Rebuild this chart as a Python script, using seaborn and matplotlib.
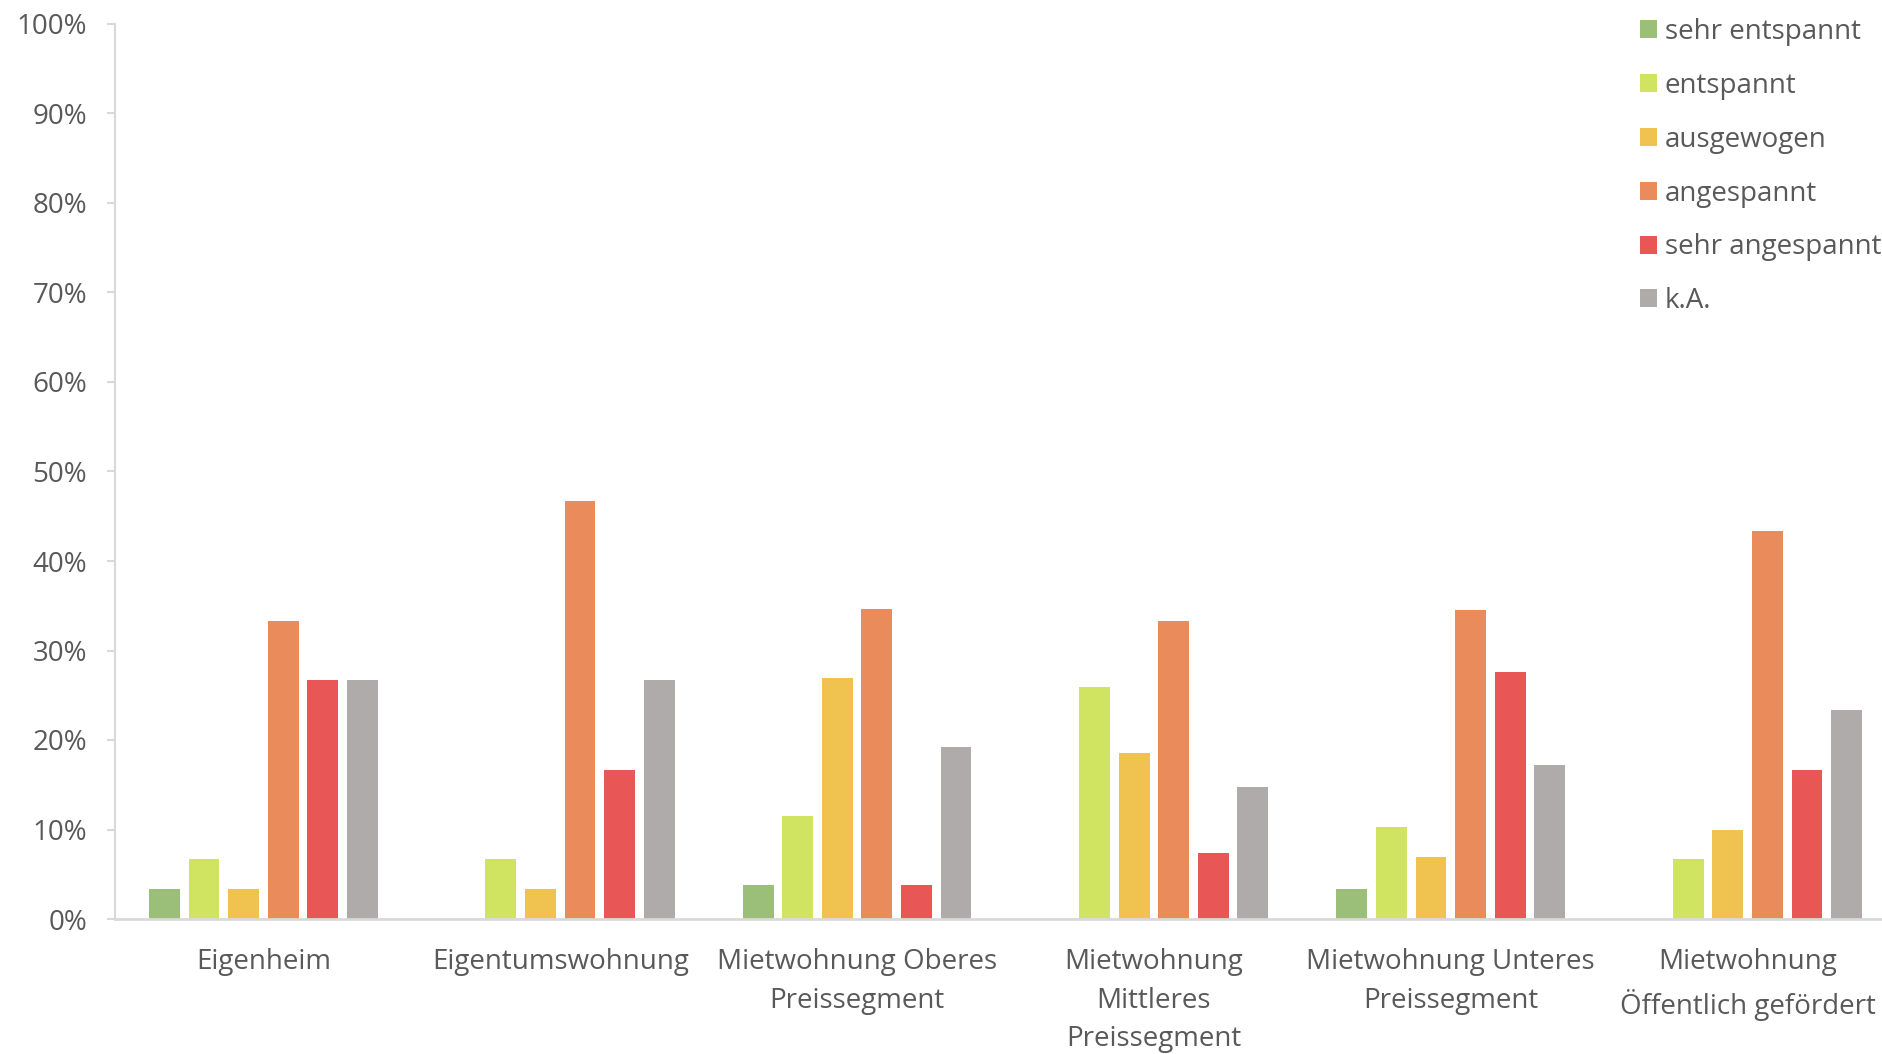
import matplotlib
matplotlib.use("Agg")
import matplotlib.pyplot as plt
import seaborn as sns
import pandas as pd
from matplotlib.patches import Patch
from matplotlib.ticker import PercentFormatter, MultipleLocator

categories = [
    "Eigenheim",
    "Eigentumswohnung",
    "Mietwohnung Oberes\nPreissegment",
    "Mietwohnung\nMittleres\nPreissegment",
    "Mietwohnung Unteres\nPreissegment",
    "Mietwohnung\nÖffentlich gefördert",
]
series = ["sehr entspannt", "entspannt", "ausgewogen", "angespannt", "sehr angespannt", "k.A."]

sehr_entspannt = [3.3, 0.0, 3.8, 0.0, 3.4, 0.0]
entspannt = [6.7, 6.7, 11.5, 25.9, 10.3, 6.7]
ausgewogen = [3.3, 3.3, 26.9, 18.5, 6.9, 10.0]
angespannt = [33.3, 46.7, 34.6, 33.3, 34.5, 43.3]
sehr_angespannt = [26.7, 16.7, 3.8, 7.4, 27.6, 16.7]
k_a = [26.7, 26.7, 19.2, 14.8, 17.2, 23.3]

colors = ["#9BBE78", "#D0E462", "#F0C350", "#E98B5B", "#E85656", "#AFABAA"]

values = [sehr_entspannt, entspannt, ausgewogen, angespannt, sehr_angespannt, k_a]
rows = []
for s, vals in zip(series, values):
    for c, v in zip(categories, vals):
        rows.append({"Kategorie": c, "Serie": s, "Wert": v})
df = pd.DataFrame(rows)

sns.set_style("white")
plt.rcParams["font.family"] = ["Open Sans", "DejaVu Sans"]
FS = 20
TXT = "#595959"
AX = "#D9D9D9"

fig = plt.figure(figsize=(18.83, 10.54), dpi=100)
ax = fig.add_axes([115 / 1883, 1 - 919 / 1054, 1781 / 1883, (919 - 24) / 1054])

sns.barplot(
    data=df, x="Kategorie", y="Wert", hue="Serie",
    order=categories, hue_order=series, palette=colors, saturation=1,
    width=0.80, gap=0.22, linewidth=0, errorbar=None,
    legend=False, ax=ax,
)

ax.set_ylim(0, 100)
ax.set_xlim(-0.5, len(categories) - 0.5)
ax.yaxis.set_major_locator(MultipleLocator(10))
ax.yaxis.set_major_formatter(PercentFormatter(100, decimals=0))
ax.set_xlabel("")
ax.set_ylabel("")

for side in ["top", "right"]:
    ax.spines[side].set_visible(False)
ax.spines["left"].set_color(AX)
ax.spines["left"].set_linewidth(1.5)
ax.spines["bottom"].set_color(AX)
ax.spines["bottom"].set_linewidth(2)

ax.tick_params(axis="y", which="major", length=6, width=1.5, color=AX,
               labelsize=FS, labelcolor=TXT, pad=14, left=True, direction="out")
ax.tick_params(axis="x", length=0, labelsize=FS, labelcolor=TXT, pad=21)
for lab in ax.get_xticklabels():
    lab.set_linespacing(1.5)
    lab.set_verticalalignment("top")

handles = [Patch(facecolor=c, edgecolor="none", label=s) for c, s in zip(colors, series)]
leg = fig.legend(
    handles=handles, loc="upper left", bbox_to_anchor=(1640 / 1883, 1 - 18 / 1054),
    frameon=False, fontsize=FS, handlelength=0.62, handleheight=0.62,
    handletextpad=0.28, labelspacing=0.93, borderpad=0, borderaxespad=0,
)
for t in leg.get_texts():
    t.set_color(TXT)

fig.savefig("out.png", dpi=100)
